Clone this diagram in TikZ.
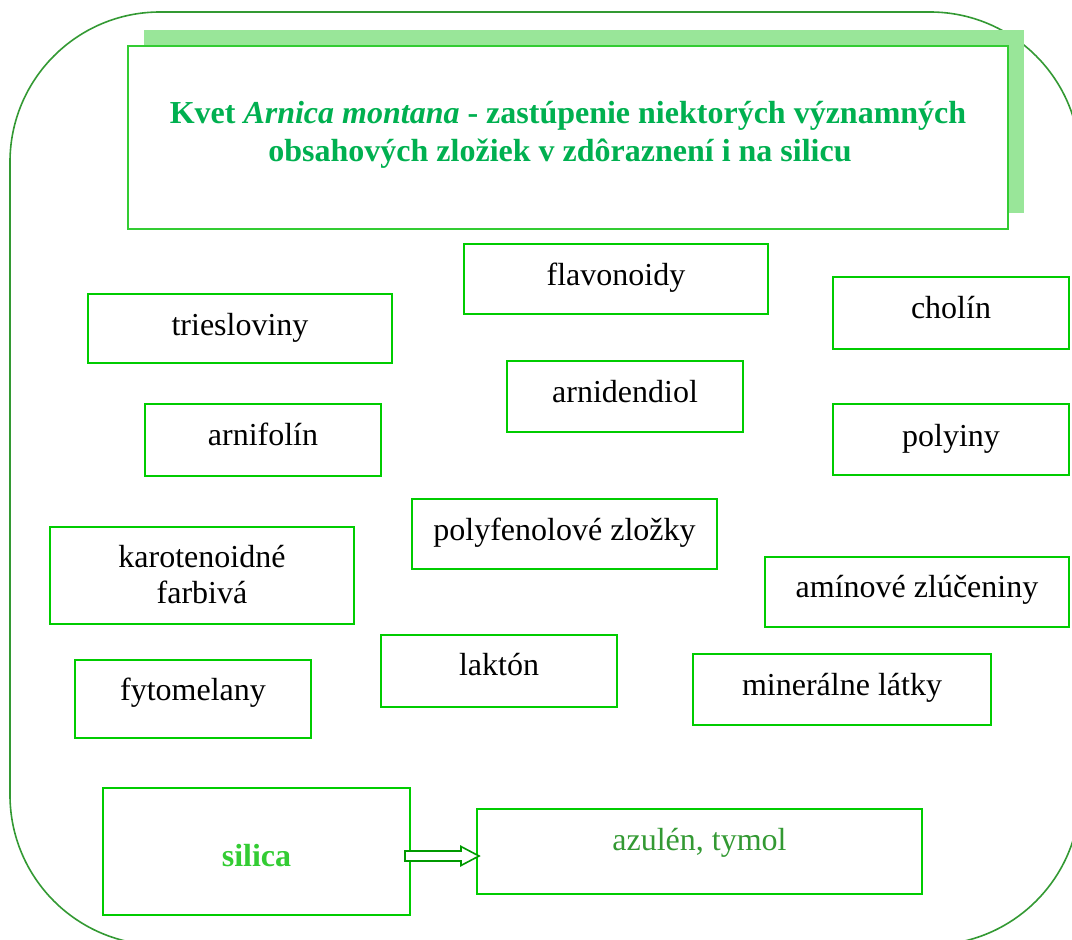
\documentclass[tikz,border=0pt]{standalone}
\usepackage{fontspec}
\setmainfont{Liberation Serif}
\usetikzlibrary{calc,shadows}

\definecolor{framegreen}{HTML}{339933}
\definecolor{boxgreen}{HTML}{00CC00}
\definecolor{titleborder}{HTML}{33CC33}
\definecolor{shadowgreen}{HTML}{99E699}
\definecolor{titletext}{HTML}{00B050}
\definecolor{silicatext}{HTML}{33CC33}
\definecolor{azultext}{HTML}{339933}
\definecolor{arrowgreen}{HTML}{009900}

\tikzset{
  frame/.style={draw=framegreen, line width=1.6pt, rounded corners=150pt},
  titlebox/.style={draw=titleborder, fill=white, line width=2pt,
    drop shadow={shadow xshift=16pt, shadow yshift=16pt, fill=shadowgreen, opacity=1}},
  cbox/.style={draw=boxgreen, line width=2pt, inner sep=0pt, outer sep=0pt},
  lbl/.style={inner sep=0pt, anchor=base, font=\fontsize{32}{36}\selectfont},
  titlelbl/.style={inner sep=0pt, anchor=base, text=titletext,
    font=\fontsize{32}{38}\selectfont\bfseries},
  blockarrow/.style={draw=arrowgreen, fill=white, line width=1.6pt, line join=miter}
}

\begin{document}
\begin{tikzpicture}[x=1pt, y=-1pt]
\useasboundingbox (0,0) rectangle (1072,940);

% outer rounded frame
\draw[frame] (10,12) rectangle (1080,945);

% title panel with its offset shadow
\node[titlebox, minimum width=880pt, minimum height=183pt] (title) at (568,137.5) {};
\node[titlelbl] (title1) at (568,123) {Kvet \textit{Arnica montana} - zastúpenie niektorých významných};
\node[titlelbl] (title2) at (560,161) {obsahových zložiek v zdôraznení i na silicu};

% constituent boxes
\node[cbox, minimum width=304pt, minimum height=70pt] (flav) at (616,279) {};
\node[lbl] (flav-t) at (616,285) {flavonoidy};

\node[cbox, minimum width=236pt, minimum height=72pt] (cholin) at (951,313) {};
\node[lbl] (cholin-t) at (951,318) {cholín};

\node[cbox, minimum width=304pt, minimum height=69pt] (trie) at (240,328.5) {};
\node[lbl] (trie-t) at (240,335) {triesloviny};

\node[cbox, minimum width=236pt, minimum height=71pt] (arnid) at (625,396.5) {};
\node[lbl] (arnid-t) at (625,402) {arnidendiol};

\node[cbox, minimum width=236pt, minimum height=72pt] (arnif) at (263,440) {};
\node[lbl] (arnif-t) at (263,445) {arnifolín};

\node[cbox, minimum width=236pt, minimum height=71pt] (polyin) at (951,439.5) {};
\node[lbl] (polyin-t) at (951,446) {polyiny};

\node[cbox, minimum width=305pt, minimum height=70pt] (polyf) at (564.5,534) {};
\node[lbl] (polyf-t) at (564.5,540) {polyfenolové zložky};

\node[cbox, minimum width=304pt, minimum height=97pt] (karo) at (202,575.5) {};
\node[lbl] (karo-t1) at (202,567) {karotenoidné};
\node[lbl] (karo-t2) at (202,603) {farbivá};

\node[cbox, minimum width=304pt, minimum height=70pt] (amin) at (917,592) {};
\node[lbl] (amin-t) at (917,597) {amínové zlúčeniny};

\node[cbox, minimum width=236pt, minimum height=72pt] (lakt) at (499,671) {};
\node[lbl] (lakt-t) at (499,675) {laktón};

\node[cbox, minimum width=298pt, minimum height=71pt] (miner) at (842,689.5) {};
\node[lbl] (miner-t) at (842,695) {minerálne látky};

\node[cbox, minimum width=236pt, minimum height=78pt] (fyto) at (193,699) {};
\node[lbl] (fyto-t) at (193,700) {fytomelany};

% essential oil and its components
\node[cbox, minimum width=307pt, minimum height=127pt] (silica) at (256.5,851.5) {};
\node[lbl, text=silicatext, font=\fontsize{32}{36}\selectfont\bfseries] (silica-t) at (256.5,866) {silica};

\node[cbox, minimum width=445pt, minimum height=85pt] (azul) at (699.5,851.5) {};
\node[lbl, text=azultext] (azul-t) at (699.5,850) {azulén, tymol};

% hollow block arrow from silica to its components
\coordinate (arrs) at ($(silica.east)+(-5,4.5)$);
\coordinate (arrt) at ($(azul.west)+(2,4.5)$);
\draw[blockarrow] ($(arrs)+(0,-5)$) -- ($(arrt)+(-18,-5)$) -- ($(arrt)+(-18,-9.5)$)
  -- (arrt) -- ($(arrt)+(-18,9.5)$) -- ($(arrt)+(-18,5)$) -- ($(arrs)+(0,5)$) -- cycle;
\end{tikzpicture}
\end{document}
